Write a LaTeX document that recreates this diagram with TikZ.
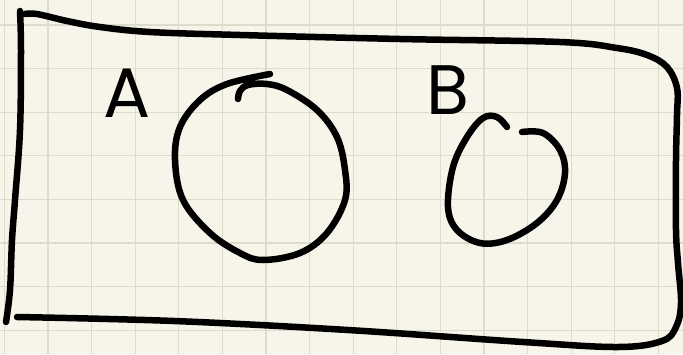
\documentclass[tikz,border=0pt]{standalone}
\usepackage{fontspec}
\usepackage{tikz}
\definecolor{paper}{RGB}{247,245,233}
\definecolor{gridline}{RGB}{221,219,204}
\definecolor{ink}{RGB}{0,0,0}
\newfontfamily\handfont{Poppins}

\begin{document}
\begin{tikzpicture}[x=1pt, y=-1pt,
    pen/.style={draw=ink, line width=6.5pt, line cap=round, line join=round},
    sheetgrid/.style={draw=gridline, line width=1.2pt},
    letter/.style={anchor=base, inner sep=0pt, text=ink,
                   font=\handfont\fontsize{70}{70}\selectfont}]
  \useasboundingbox[fill=paper] (0,0) rectangle (683,354);
  % squared paper
  \foreach \gx in {0,...,15}
    \draw[sheetgrid] (4.3+43.6*\gx,0) -- (4.3+43.6*\gx,354);
  \foreach \gy in {0,...,7}
    \draw[sheetgrid] (0,25+43.6*\gy) -- (683,25+43.6*\gy);

  % universe box, left side and the rest in one stroke
  \draw[pen] plot[smooth, tension=0.6] coordinates {
    (20,11) (21,50) (20,130) (15,200) (12,240) (10,290) (6,322)};
  \draw[pen] plot[smooth, tension=0.6] coordinates {
    (25,14) (37,14) (67,21) (100,27) (150,32) (240,35) (400,39) (560,42)
    (617,48) (647,55) (667,67) (677,88) (677,115) (676,160) (676,230)
    (678,263) (681,303) (676,327) (662,341) (618,347) (523,342)
    (348,330) (174,321) (17,317)};

  % set A
  \draw[pen] plot[smooth, tension=0.6] coordinates {
    (238,99) (240,91) (248,85) (267,84) (287,90) (317,110) (337,137)
    (345,170) (345,200) (327,233) (300,253) (263,260) (240,253)
    (210,233) (183,200) (175,160) (180,127) (200,100) (227,84) (270,74)};

  % set B
  \draw[pen] plot[smooth, tension=0.6] coordinates {
    (507,127) (497,117) (483,118) (467,137) (453,167) (448,207)
    (457,230) (480,243) (507,240) (537,223) (557,200) (565,173)
    (560,150) (543,133) (522,132)};

  \node[letter] (labelA) at (127,117) {A};
  \node[letter] (labelB) at (448,114) {B};
\end{tikzpicture}
\end{document}
